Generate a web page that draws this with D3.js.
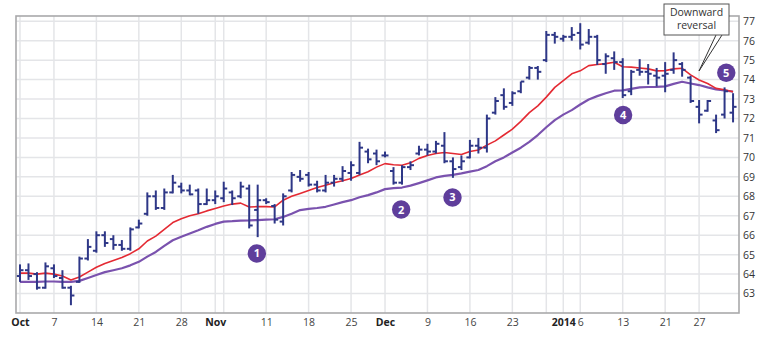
<!DOCTYPE html>
<html><head><meta charset="utf-8">
<script src="https://cdn.jsdelivr.net/npm/d3@7/dist/d3.min.js"></script>
<style>
body{margin:0;background:#fff;}
svg{display:block;font-family:"Open Sans",Lato,sans-serif;}
</style></head>
<body><svg id="c" width="773" height="337"></svg>
<script>
// OHLC by trading day, Oct 1 2013 .. Jan 31 2014
const openV  = [63.9,64.2,64.0,63.3,64.3,63.8,63.3,63.6,64.8,65.2,66.0,65.8,65.5,65.3,66.4,67.1,68.0,67.4,68.2,68.5,68.3,68.3,67.6,67.8,67.9,68.2,68.0,68.4,67.3,67.8,67.5,66.7,68.3,69.0,69.1,68.6,68.3,68.7,68.9,69.2,69.2,70.3,70.2,70.1,69.3,68.7,69.5,70.2,70.4,70.3,70.6,69.8,69.5,70.0,70.6,70.5,72.3,73.2,72.8,73.4,74.1,74.6,75.0,76.3,76.1,76.2,76.4,75.9,76.2,74.8,75.1,74.9,73.4,74.5,74.4,74.2,74.2,74.5,74.8,74.1,72.6,72.4,71.9,72.2,72.3];
const highV  = [64.5,64.55,64.1,64.6,64.5,64.2,63.4,64.9,65.8,66.2,66.2,66.0,65.75,66.4,66.8,68.2,68.3,68.4,69.1,68.7,68.6,68.4,68.4,68.3,68.75,68.3,68.75,68.6,68.6,67.9,67.6,68.15,69.25,69.35,69.25,68.8,69.1,69.1,69.55,69.8,70.8,70.45,70.4,70.3,69.5,69.6,69.8,70.6,70.7,70.85,71.3,70.0,70.1,70.9,71.0,72.2,73.1,73.55,73.4,73.9,74.7,74.7,76.5,76.45,76.3,76.7,76.9,76.6,76.3,75.35,75.45,75.1,74.5,75.05,74.8,74.6,74.9,75.4,74.9,74.2,72.95,72.95,72.2,73.6,73.3];
const lowV   = [63.6,63.7,63.2,63.25,63.8,63.25,62.4,63.55,64.7,65.1,65.4,65.25,65.2,65.2,66.35,67.0,67.3,67.3,68.15,68.15,68.05,67.1,67.55,67.6,67.7,67.55,67.9,66.35,65.9,67.6,66.6,66.5,68.2,68.75,68.5,68.2,68.2,68.5,68.75,68.8,69.1,69.7,69.6,70.0,68.6,68.6,69.35,70.1,70.1,70.2,69.7,68.95,69.35,69.95,70.2,70.25,72.2,72.45,72.65,73.3,74.0,74.0,74.9,75.85,75.95,76.0,75.55,75.8,74.75,74.3,74.5,73.05,73.2,74.2,73.75,73.65,73.35,74.3,74.15,72.8,71.75,72.35,71.25,72.0,71.8];
const closeV = [64.2,63.9,63.3,64.4,63.9,63.3,62.9,64.8,65.4,66.0,65.6,65.5,65.3,66.3,66.6,68.0,67.4,68.2,68.7,68.3,68.1,67.6,67.8,68.0,68.4,67.9,68.5,66.5,67.8,67.7,66.8,68.0,69.1,68.9,68.6,68.3,68.7,68.9,69.3,69.6,70.5,69.9,69.8,70.1,68.7,69.5,69.6,70.4,70.3,70.7,69.8,69.4,69.8,70.6,70.5,72.0,72.9,72.6,73.3,73.9,74.6,74.4,76.3,76.2,76.2,76.3,75.8,76.2,75.0,75.2,74.9,73.2,74.4,74.4,74.3,74.1,74.3,75.0,74.5,72.9,72.2,72.9,71.4,73.4,72.6];
// short (red) and long (purple) moving averages
const maShort = [64.05,64.05,64.0,64.05,64.0,63.9,63.7,63.85,64.1,64.35,64.55,64.7,64.85,65.05,65.3,65.7,65.95,66.3,66.65,66.85,67.0,67.1,67.25,67.37,67.5,67.6,67.65,67.45,67.47,67.47,67.45,67.8,68.0,68.15,68.3,68.45,68.57,68.7,68.8,68.92,69.1,69.26,69.5,69.68,69.62,69.6,69.72,69.95,70.1,70.2,70.25,70.2,70.15,70.3,70.38,70.63,70.85,71.15,71.45,71.85,72.3,72.65,73.1,73.6,73.95,74.3,74.45,74.72,74.78,74.82,74.89,74.66,74.64,74.6,74.55,74.45,74.46,74.55,74.58,74.24,73.98,73.8,73.55,73.48,73.38];
const maLong  = [63.6,63.6,63.6,63.62,63.62,63.6,63.6,63.65,63.8,63.95,64.1,64.2,64.3,64.45,64.63,64.9,65.14,65.45,65.74,65.92,66.09,66.25,66.43,66.58,66.7,66.72,66.75,66.76,66.78,66.8,66.82,66.94,67.1,67.29,67.35,67.4,67.46,67.58,67.7,67.8,67.95,68.06,68.2,68.37,68.42,68.45,68.55,68.68,68.82,68.97,69.05,69.1,69.18,69.27,69.35,69.55,69.8,70.0,70.25,70.5,70.8,71.15,71.55,71.92,72.2,72.43,72.72,72.98,73.15,73.3,73.43,73.45,73.52,73.6,73.62,73.63,73.65,73.78,73.89,73.8,73.72,73.6,73.5,73.44,73.38];
// x tick labels (trading-day index)
const xTickIdx   = [0,4,9,14,19,23,29,34,39,43,48,53,58,64,66,71,76,80];
const xTickLabel = ["Oct","7","14","21","28","Nov","11","18","25","Dec","9","16","23","2014","6","13","21","27"];
const xTickBold  = ["Oct","Nov","Dec","2014"];
const xGridIdx   = [0,4,9,14,19,23,24,29,34,39,43,48,53,58,62,64,66,71,76,80];
const yTicks = [63,64,65,66,67,68,69,70,71,72,73,74,75,76,77];
// numbered markers
const markerLabel = ["1","2","3","4","5"];
const markerIdx   = [27.9,44.9,50.95,71.05,83.2];
const markerVal   = [65.06,67.32,67.94,72.18,74.35];
const calloutText = ["Downward","reversal"];

const svg = d3.select("#c");
const L=16,R=739,T=16,B=313;
const x = d3.scaleLinear().domain([-0.47,84.7]).range([L,R]);
const y = d3.scaleLinear().domain([62,77.27]).range([B,T]);
const n = openV.length;
const idx = d3.range(n);

// grid
const g = svg.append("g");
g.selectAll("line.h").data(yTicks).join("line")
  .attr("x1",L).attr("x2",R).attr("y1",d=>y(d)).attr("y2",d=>y(d))
  .attr("stroke","#e4e5e8").attr("stroke-width",1.5);
g.selectAll("line.v").data(xGridIdx).join("line")
  .attr("x1",d=>x(d)).attr("x2",d=>x(d)).attr("y1",T).attr("y2",B)
  .attr("stroke","#e4e5e8").attr("stroke-width",1.5);

// moving averages
const lineGen = arr => d3.line().x(i=>x(i)).y(i=>y(arr[i]))(idx);
svg.append("path").attr("d",lineGen(maLong)).attr("fill","none")
  .attr("stroke","#7a52ae").attr("stroke-width",2.2).attr("stroke-linejoin","round");
svg.append("path").attr("d",lineGen(maShort)).attr("fill","none")
  .attr("stroke","#e42a33").attr("stroke-width",1.6).attr("stroke-linejoin","round");

// OHLC bars
const barC="#2e3787";
const bars = svg.append("g").attr("stroke",barC).attr("stroke-width",2);
bars.selectAll("line.hl").data(idx).join("line")
  .attr("x1",i=>x(i)).attr("x2",i=>x(i)).attr("y1",i=>y(highV[i])).attr("y2",i=>y(lowV[i]));
bars.selectAll("line.o").data(idx).join("line")
  .attr("x1",i=>x(i)-3.5).attr("x2",i=>x(i)).attr("y1",i=>y(openV[i])).attr("y2",i=>y(openV[i]));
bars.selectAll("line.c").data(idx).join("line")
  .attr("x1",i=>x(i)).attr("x2",i=>x(i)+3.5).attr("y1",i=>y(closeV[i])).attr("y2",i=>y(closeV[i]));

// frame
svg.append("rect").attr("x",L).attr("y",T).attr("width",R-L).attr("height",B-T)
  .attr("fill","none").attr("stroke","#a9a9ab").attr("stroke-width",1.6);

// axes
const yAxis = d3.axisRight(y).tickValues(yTicks).tickSize(0).tickPadding(4);
const ya = svg.append("g").attr("transform",`translate(${R},0)`).call(yAxis);
ya.select(".domain").remove();
ya.selectAll("text").attr("font-size","10.5px").attr("fill","#333")
  .attr("font-family","'Open Sans',sans-serif");

const xAxis = d3.axisBottom(x).tickValues(xTickIdx).tickSize(0).tickPadding(6)
  .tickFormat((d,k)=>xTickLabel[k]);
const xa = svg.append("g").attr("transform",`translate(0,${B})`).call(xAxis);
xa.select(".domain").remove();
xa.selectAll("text").attr("font-size","10.5px").attr("fill","#333")
  .attr("font-family","'Open Sans',sans-serif")
  .attr("font-weight",(d,k)=>xTickBold.includes(xTickLabel[k])?"700":"400")
  .attr("fill",(d,k)=>xTickBold.includes(xTickLabel[k])?"#222":"#444");

// markers
const mk = svg.append("g");
markerLabel.forEach((t,k)=>{
  const cx=x(markerIdx[k]), cy=y(markerVal[k]);
  mk.append("circle").attr("cx",cx).attr("cy",cy).attr("r",9.2).attr("fill","#5f3e9b");
  mk.append("text").attr("x",cx).attr("y",cy+4).attr("text-anchor","middle")
    .attr("font-size","11px").attr("font-weight","700").attr("fill","#fff").text(t);
});

// callout
svg.append("path").attr("d","M716,35 L699,71 L722,35")
  .attr("fill","#fff").attr("stroke","#333").attr("stroke-width",1);
svg.append("rect").attr("x",664).attr("y",4).attr("width",65).attr("height",31)
  .attr("fill","#fff").attr("stroke","#555").attr("stroke-width",1);
calloutText.forEach((t,k)=>{
  svg.append("text").attr("x",696.5).attr("y",16+k*12.5).attr("text-anchor","middle")
    .attr("font-size","10.5px").attr("fill","#333").text(t);
});
</script></body></html>
